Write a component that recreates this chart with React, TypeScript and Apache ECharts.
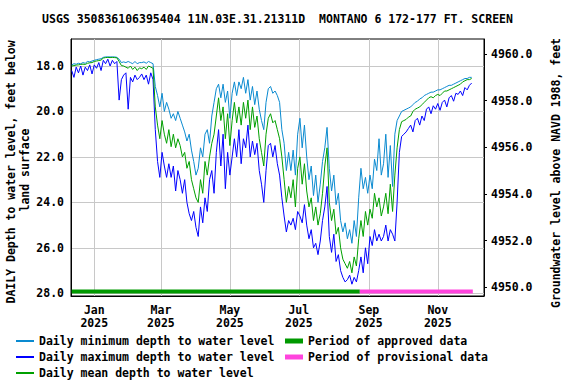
import React, { useEffect, useRef } from "react";
import * as echarts from "echarts";

const FONT = "'DejaVu Sans Mono', 'Liberation Mono', monospace";
const FS = 11.5;

const titleText = "USGS 350836106395404 11N.03E.31.21311D  MONTANO 6 172-177 FT. SCREEN";
const leftName1 = "DAILY Depth to water level, feet below";
const leftName2 = "land surface";
const rightName = "Groundwater level above NAVD 1988, feet";

// x = days since 2025-01-01
const tickDays = [0, 59, 120, 181, 243, 304];
const tickLabels = ["Jan\n2025", "Mar\n2025", "May\n2025", "Jul\n2025", "Sep\n2025", "Nov\n2025"];
const depthTicks = [18, 20, 22, 24, 26, 28];
const elevTicks = [4950, 4952, 4954, 4956, 4958, 4960];

const firstDay = -20;
const dayStep = 2;

const minDepth = [
  17.95, 17.90, 17.92, 17.88, 17.90,
  17.85, 17.88, 17.80, 17.82, 17.78,
  17.75, 17.72, 17.70, 17.68, 17.62,
  17.60, 17.60, 17.60, 17.60, 17.60,
  17.62, 17.70, 17.85, 17.82, 17.85,
  17.80, 17.85, 17.90, 17.80, 17.90,
  17.85, 17.85, 17.82, 17.88, 17.80,
  17.85, 17.90, 18.90, 19.30, 19.80,
  19.20, 20.00, 19.60, 19.90, 20.30,
  20.10, 20.40, 20.00, 20.30, 20.60,
  20.90, 21.30, 21.00, 21.70, 22.20,
  22.80, 22.50, 21.60, 22.00, 21.00,
  20.80, 21.40, 20.20, 19.60, 19.00,
  18.80, 19.40, 18.80, 19.60, 19.10,
  20.30, 19.20, 18.70, 19.30, 18.70,
  19.00, 18.50, 19.20, 18.60, 19.50,
  18.90, 19.70, 19.10, 19.90, 20.40,
  20.80, 19.60, 19.00, 18.90, 19.20,
  19.10, 19.30, 19.60, 20.80, 21.40,
  22.60, 21.80, 22.60, 21.70, 22.80,
  21.00, 20.30, 21.60, 20.60, 22.00,
  23.00, 22.40, 23.70, 22.80, 24.00,
  23.20, 22.20, 21.60, 20.70, 22.50,
  23.50, 22.80, 24.10, 23.60, 24.80,
  25.30, 24.90, 25.60, 25.20, 25.80,
  24.80, 25.50, 23.80, 22.50, 23.40,
  22.90, 23.60, 22.80, 23.40, 22.10,
  22.60, 21.20, 22.80, 22.30, 21.00,
  22.90, 21.50, 23.30, 21.00, 20.40,
  20.20, 20.00, 19.95, 19.90, 19.85,
  19.80, 19.70, 19.60, 19.55, 19.45,
  19.40, 19.30, 19.25, 19.20, 19.15,
  19.15, 19.10, 19.05, 19.05, 19.00,
  18.95, 18.90, 18.85, 18.85, 18.80,
  18.75, 18.70, 18.65, 18.60, 18.55,
  18.55, 18.50, 18.50,
];

const meanDepth = [
  18.00, 17.98, 17.96, 17.95, 17.93,
  17.92, 17.93, 17.88, 17.86, 17.85,
  17.80, 17.78, 17.76, 17.74, 17.65,
  17.63, 17.62, 17.63, 17.62, 17.63,
  17.64, 17.80, 17.98, 18.00, 18.05,
  18.10, 18.00, 18.15, 18.05, 18.20,
  18.08, 18.12, 18.05, 18.15, 18.00,
  18.05, 18.10, 19.80, 20.60, 21.20,
  20.40, 21.00, 21.40, 20.80, 21.55,
  21.00, 21.60, 21.20, 21.50, 22.00,
  21.80, 22.50, 22.20, 23.00, 23.40,
  23.80, 24.00, 23.00, 23.60, 22.20,
  22.80, 22.00, 21.40, 21.00, 20.20,
  19.40, 20.40, 19.80, 21.20, 20.10,
  21.50, 20.40, 19.60, 20.50, 19.80,
  20.60, 19.60, 20.30, 19.50, 20.80,
  19.80, 20.70, 20.20, 21.20, 21.80,
  22.40, 21.00, 20.30, 20.10, 20.50,
  20.40, 20.80, 21.20, 22.00, 23.00,
  24.00, 23.30, 23.80, 23.00, 24.20,
  22.50, 22.00, 23.20, 22.30, 23.50,
  24.20, 23.80, 24.80, 24.20, 25.00,
  24.50, 23.60, 22.40, 21.60, 24.00,
  24.80, 24.30, 25.40, 25.10, 26.00,
  26.50, 26.70, 26.90, 26.60, 27.10,
  26.40, 26.80, 25.60, 24.80, 25.50,
  24.40, 25.00, 24.30, 24.70, 23.60,
  24.20, 23.80, 24.60, 24.20, 23.60,
  24.50, 23.20, 24.40, 22.80, 21.60,
  20.80, 20.45, 20.40, 20.35, 20.25,
  20.20, 20.00, 19.90, 19.85, 19.80,
  19.70, 19.60, 19.50, 19.40, 19.35,
  19.40, 19.30, 19.25, 19.30, 19.20,
  19.10, 19.10, 19.05, 19.00, 18.95,
  18.90, 18.85, 18.80, 18.70, 18.65,
  18.60, 18.60, 18.55,
];

const maxDepth = [
  18.20, 18.50, 18.05, 18.30, 18.00,
  18.40, 18.05, 18.20, 17.95, 18.35,
  17.95, 18.10, 17.85, 18.20, 17.75,
  17.90, 17.70, 18.00, 17.75, 17.90,
  17.80, 19.50, 18.60, 18.40, 18.30,
  19.90, 18.50, 18.70, 18.40, 18.60,
  18.50, 18.35, 18.60, 18.40, 18.80,
  18.30, 18.60, 20.80, 22.20, 22.90,
  21.80, 22.40, 22.90, 22.30, 22.90,
  22.40, 23.50, 22.60, 23.00, 23.60,
  23.00, 24.00, 24.50, 24.80, 24.40,
  25.10, 25.50, 24.20, 24.90, 23.80,
  24.40, 23.00, 22.60, 23.60, 21.80,
  20.80, 22.40, 21.00, 23.40, 21.80,
  22.80, 22.00, 21.20, 22.00, 20.80,
  22.30, 21.20, 21.60, 20.60, 22.00,
  21.30, 21.90, 21.40, 22.60, 23.20,
  24.00, 22.60, 21.50, 21.40, 22.00,
  21.50, 22.30, 22.80, 23.80, 24.60,
  25.30, 24.80, 25.00, 24.70, 25.20,
  24.40, 24.60, 24.90, 24.10, 25.00,
  25.60, 25.20, 26.00, 25.80, 26.30,
  25.70, 24.80, 24.20, 23.30, 25.50,
  26.20, 25.40, 26.60, 26.30, 27.00,
  27.30, 27.50, 27.40, 27.20, 27.60,
  27.30, 27.50, 27.00, 26.40, 27.10,
  26.00, 26.70, 25.50, 25.90, 25.20,
  25.70, 25.40, 25.70, 25.50, 25.00,
  25.70, 25.20, 25.40, 25.70, 24.00,
  21.80, 21.10, 21.00, 20.90, 20.75,
  20.60, 20.90, 20.40, 20.30, 20.60,
  20.20, 20.40, 19.90, 19.80, 20.10,
  19.75, 19.90, 19.65, 19.95, 19.60,
  19.50, 19.80, 19.40, 19.30, 19.55,
  19.20, 19.25, 19.10, 19.30, 18.95,
  19.05, 18.85, 18.75,
];

const approvedPeriod = [-20, 235];
const provisionalPeriod = [235, 335];
const periodBarDepth = 27.92;

const names = {
  min: "Daily minimum depth to water level",
  max: "Daily maximum depth to water level",
  mean: "Daily mean depth to water level",
  approved: "Period of approved data",
  provisional: "Period of provisional data",
};

const colors = {
  min: "#0a8ad0",
  max: "#0000ff",
  mean: "#00a000",
  approved: "#009900",
  provisional: "#ff44dd",
};

const toPoints = (arr: number[]) => arr.map((v, i) => [firstDay + i * dayStep, v]);

const textBase = { fontFamily: FONT, fontSize: FS, fontWeight: "bold" as const, color: "#000" };

function lineSeries(name: string, data: number[][], color: string, width: number) {
  return {
    name,
    type: "line",
    data,
    symbol: "none",
    showSymbol: false,
    yAxisIndex: 0,
    lineStyle: { color, width },
    itemStyle: { color },
    emphasis: { disabled: true },
    silent: true,
  };
}

function gText(text: string, x: number, y: number, rotation = 0) {
  return {
    type: "text",
    x,
    y,
    rotation,
    silent: true,
    style: {
      text,
      fill: "#000",
      font: `bold ${FS}px ${FONT}`,
      textAlign: "center",
      textVerticalAlign: "middle",
      align: "center",
      verticalAlign: "middle",
    },
  };
}

export default function App() {
  const ref = useRef<HTMLDivElement>(null);
  useEffect(() => {
    const chart = echarts.init(ref.current!, null, { renderer: "svg" });
    const option: any = {
      animation: false,
      backgroundColor: "#fff",
      grid: {
        left: 71,
        right: 92,
        top: 39,
        bottom: 88,
        show: true,
        borderColor: "#000",
        borderWidth: 1,
        containLabel: false,
        outerBoundsMode: "none",
      },
      xAxis: {
        type: "value",
        min: -20.6,
        max: 344.9,
        axisLine: { show: true, onZero: false, lineStyle: { color: "#000", width: 1 } },
        axisTick: { show: false, customValues: tickDays },
        axisLabel: {
          ...textBase,
          customValues: tickDays,
          lineHeight: 13,
          margin: 7,
          formatter: (v: number) => {
            const i = tickDays.indexOf(Math.round(v));
            return i >= 0 ? tickLabels[i] : "";
          },
        },
        splitLine: { show: true, lineStyle: { color: "#c8c8c8", width: 1 } },
      },
      yAxis: [
        {
          type: "value",
          inverse: true,
          min: 16.812,
          max: 28.119,
          position: "left",
          axisLine: { show: true, onZero: false, lineStyle: { color: "#000", width: 1 } },
          axisTick: { show: false, customValues: depthTicks },
          axisLabel: {
            ...textBase,
            customValues: depthTicks,
            margin: 7,
            formatter: (v: number) => v.toFixed(1),
          },
          splitLine: { show: true, lineStyle: { color: "#c8c8c8", width: 1 } },
        },
        {
          type: "value",
          min: 4949.627,
          max: 4960.643,
          position: "right",
          axisLine: { show: true, onZero: false, lineStyle: { color: "#000", width: 1 } },
          axisTick: { show: true, inside: false, length: 3, customValues: elevTicks, lineStyle: { color: "#000" } },
          axisLabel: {
            ...textBase,
            customValues: elevTicks,
            margin: 7,
            formatter: (v: number) => v.toFixed(1),
          },
          splitLine: { show: false },
        },
      ],
      legend: [
        {
          orient: "vertical",
          left: 16,
          top: 334,
          padding: 0,
          itemWidth: 18,
          itemHeight: 2,
          itemGap: 2,
          icon: "rect",
          selectedMode: false,
          data: [names.min, names.max, names.mean],
          textStyle: { ...textBase, lineHeight: 14 },
        },
        {
          orient: "vertical",
          left: 285,
          top: 334,
          padding: 0,
          itemWidth: 18,
          itemHeight: 5,
          itemGap: 2,
          icon: "rect",
          selectedMode: false,
          data: [names.approved, names.provisional],
          textStyle: { ...textBase, lineHeight: 14 },
        },
      ],
      graphic: [
        gText(titleText, 277.5, 19),
        gText(leftName1, 11, 172, Math.PI / 2),
        gText(leftName2, 25, 170, Math.PI / 2),
        gText(rightName, 556, 173, Math.PI / 2),
      ],
      series: [
        lineSeries(names.max, toPoints(maxDepth), colors.max, 1),
        lineSeries(names.min, toPoints(minDepth), colors.min, 1),
        lineSeries(names.mean, toPoints(meanDepth), colors.mean, 1),
        lineSeries(
          names.approved,
          approvedPeriod.map((d) => [d, periodBarDepth]),
          colors.approved,
          4
        ),
        lineSeries(
          names.provisional,
          provisionalPeriod.map((d) => [d, periodBarDepth]),
          colors.provisional,
          4
        ),
      ],
    };
    chart.setOption(option);
    return () => chart.dispose();
  }, []);
  return (
    <div
      ref={ref}
      style={{ position: "fixed", left: 0, top: 0, width: 576, height: 384 }}
    />
  );
}
